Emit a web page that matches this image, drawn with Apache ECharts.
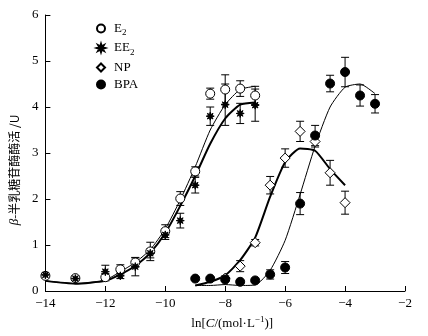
<!DOCTYPE html>
<html>
<head>
<meta charset="utf-8">
<script src="https://cdn.jsdelivr.net/npm/echarts@6/dist/echarts.min.js"></script>
<style>
  html, body { margin: 0; padding: 0; background: #fff; }
  #main { width: 428px; height: 336px; }
</style>
</head>
<body>
<div id="main"></div>
<script>
// measured points (ln concentration) and enzyme activity
var xE2 = [-14, -13, -12, -11.5, -11, -10.5, -10, -9.5, -9, -8.5, -8, -7.5, -7];
var e2Val = [0.33, 0.28, 0.30, 0.47, 0.62, 0.86, 1.30, 2.01, 2.60, 4.29, 4.38, 4.40, 4.25];
var e2Err = [0.04, 0.04, 0.08, 0.10, 0.10, 0.20, 0.14, 0.15, 0.10, 0.12, 0.32, 0.17, 0.20];
var ee2Val = [0.35, 0.27, 0.42, 0.33, 0.53, 0.82, 1.22, 1.53, 2.30, 3.80, 4.05, 3.86, 4.04];
var ee2Err = [0.04, 0.04, 0.14, 0.06, 0.20, 0.10, 0.10, 0.16, 0.17, 0.20, 0.45, 0.22, 0.35];

var xNP = [-8, -7.5, -7, -6.5, -6, -5.5, -5, -4.5, -4];
var npVal = [0.28, 0.54, 1.05, 2.30, 2.89, 3.47, 3.25, 2.57, 1.92];
var npErr = [0.05, 0.12, 0.07, 0.19, 0.20, 0.22, 0.12, 0.27, 0.25];

var xBPA = [-9, -8.5, -8, -7.5, -7, -6.5, -6, -5.5, -5, -4.5, -4, -3.5, -3];
var bpaVal = [0.27, 0.27, 0.25, 0.20, 0.23, 0.36, 0.51, 1.90, 3.38, 4.51, 4.76, 4.25, 4.07];
var bpaErr = [0.04, 0.04, 0.04, 0.03, 0.04, 0.10, 0.13, 0.24, 0.22, 0.18, 0.32, 0.23, 0.20];

// fitted curves
var fitEX = [-14, -13, -12, -11.5, -11, -10.5, -10, -9.5, -9, -8.5, -8, -7.5, -7];
var e2Fit = [0.22, 0.16, 0.24, 0.42, 0.62, 0.90, 1.35, 1.98, 2.70, 3.50, 4.05, 4.38, 4.45];
var ee2Fit = [0.22, 0.16, 0.22, 0.36, 0.55, 0.83, 1.26, 1.85, 2.50, 3.20, 3.75, 4.05, 4.10];
var fitNPX = [-9, -8.5, -8, -7.5, -7, -6.5, -6, -5.5, -5, -4.5, -4];
var npFit = [0.12, 0.20, 0.34, 0.67, 1.16, 2.05, 2.80, 3.10, 3.05, 2.65, 2.30];
var fitBX = [-9, -8.5, -8, -7.5, -7, -6.5, -6, -5.5, -5, -4.5, -4, -3.5, -3];
var bpaFit = [0.12, 0.12, 0.14, 0.12, 0.13, 0.45, 1.10, 2.10, 3.15, 4.00, 4.43, 4.50, 4.29];

var seriesNames = ['E2', 'EE2', 'NP', 'BPA'];
var legendLabels = ['{a|E}{s|2}', '{a|EE}{s|2}', '{a|NP}', '{a|BPA}'];

var serif = 'Liberation Serif, Times New Roman, serif';

function zip(xs, ys) {
    var out = [];
    for (var i = 0; i < xs.length; i++) out.push([xs[i], ys[i]]);
    return out;
}
function zipErr(xs, ys, es) {
    var out = [];
    for (var i = 0; i < xs.length; i++) out.push([xs[i], ys[i] - es[i], ys[i] + es[i]]);
    return out;
}

// 8-pointed asterisk-like star
function starPath() {
    var s = 'path://';
    for (var i = 0; i < 16; i++) {
        var a = i * Math.PI / 8 - Math.PI / 2;
        var r = i % 2 ? 4.5 : 10;
        s += (i ? 'L' : 'M') + (10 + r * Math.cos(a)).toFixed(2) + ',' + (10 + r * Math.sin(a)).toFixed(2);
    }
    return s + 'Z';
}
var STAR = starPath();

function errorBars(name, data) {
    return {
        name: name + ' err',
        type: 'custom',
        z: 3,
        data: data,
        encode: { x: 0, y: [1, 2] },
        renderItem: function (params, api) {
            var lo = api.coord([api.value(0), api.value(1)]);
            var hi = api.coord([api.value(0), api.value(2)]);
            var w = 4;
            var st = { stroke: '#000', lineWidth: 1 };
            return {
                type: 'group',
                children: [
                    { type: 'line', shape: { x1: lo[0], y1: lo[1], x2: hi[0], y2: hi[1] }, style: st },
                    { type: 'line', shape: { x1: lo[0] - w, y1: lo[1], x2: lo[0] + w, y2: lo[1] }, style: st },
                    { type: 'line', shape: { x1: hi[0] - w, y1: hi[1], x2: hi[0] + w, y2: hi[1] }, style: st }
                ]
            };
        }
    };
}

function fitLine(name, xs, ys, width) {
    return {
        name: name + ' fit',
        type: 'line',
        z: 2,
        data: zip(xs, ys),
        showSymbol: false,
        smooth: 0.2,
        silent: true,
        lineStyle: { color: '#000', width: width }
    };
}

function points(name, xs, ys, symbol, fill, size) {
    return {
        name: name,
        type: 'scatter',
        z: 5,
        data: zip(xs, ys),
        symbol: symbol,
        symbolSize: size,
        itemStyle: { color: fill, borderColor: '#000', borderWidth: 1, opacity: 1 }
    };
}

var myChart = echarts.init(document.getElementById('main'), null, { renderer: 'canvas' });

myChart.setOption({
    animation: false,
    backgroundColor: '#fff',
    grid: { left: 43, right: 23, top: 15, bottom: 45 },
    legend: {
        orient: 'vertical',
        left: 91,
        top: 17,
        itemWidth: 8,
        itemHeight: 8,
        itemGap: 4,
        selectedMode: false,
        data: seriesNames.map(function (n) { return { name: n }; }),
        formatter: function (name) {
            return legendLabels[seriesNames.indexOf(name)];
        },
        textStyle: {
            color: '#000',
            padding: [0, 0, 0, 4],
            rich: {
                a: { fontFamily: serif, fontSize: 13, color: '#000', lineHeight: 18 },
                s: { fontFamily: serif, fontSize: 9, color: '#000', lineHeight: 9, verticalAlign: 'bottom' }
            }
        }
    },
    xAxis: {
        type: 'value',
        min: -14,
        max: -2,
        interval: 2,
        name: '{t|ln[}{i|C}{t|/(mol·L}{sup|−1}{t|)]}',
        nameLocation: 'middle',
        nameGap: 22,
        nameTextStyle: {
            padding: [0, 0, 0, 14],
            rich: {
                t: { fontFamily: serif, fontSize: 13, color: '#000', lineHeight: 18 },
                i: { fontFamily: serif, fontSize: 13, color: '#000', lineHeight: 18, fontStyle: 'italic' },
                sup: { fontFamily: serif, fontSize: 9, color: '#000', lineHeight: 9, verticalAlign: 'top' }
            }
        },
        axisLine: { show: true, onZero: false, lineStyle: { color: '#000', width: 1 } },
        axisTick: { show: true, inside: true, length: 5, lineStyle: { color: '#000' } },
        axisLabel: {
            color: '#000', fontFamily: serif, fontSize: 13, margin: 6,
            formatter: function (v) { return String(v).replace('-', '−'); }
        },
        splitLine: { show: false }
    },
    yAxis: {
        type: 'value',
        min: 0,
        max: 6,
        interval: 1,
        name: '{g|β}{t|-半乳糖苷酶酶活 /U}',
        nameLocation: 'middle',
        nameGap: 22,
        nameTextStyle: {
            padding: [0, 34, 0, 0],
            rich: {
                g: { fontFamily: serif, fontSize: 13, color: '#000', fontStyle: 'italic' },
                t: { fontFamily: 'Noto Sans CJK SC', fontSize: 12, color: '#000' }
            }
        },
        axisLine: { show: true, lineStyle: { color: '#000', width: 1 } },
        axisTick: { show: true, inside: true, length: 5, lineStyle: { color: '#000' } },
        axisLabel: { color: '#000', fontFamily: serif, fontSize: 13, margin: 7 },
        splitLine: { show: false }
    },
    series: [
        fitLine('E2', fitEX, e2Fit, 1),
        fitLine('EE2', fitEX, ee2Fit, 2),
        fitLine('NP', fitNPX, npFit, 2),
        fitLine('BPA', fitBX, bpaFit, 1),
        errorBars('E2', zipErr(xE2, e2Val, e2Err)),
        errorBars('EE2', zipErr(xE2, ee2Val, ee2Err)),
        errorBars('NP', zipErr(xNP, npVal, npErr)),
        errorBars('BPA', zipErr(xBPA, bpaVal, bpaErr)),
        points('NP', xNP, npVal, 'diamond', '#fff', 10),
        points('BPA', xBPA, bpaVal, 'circle', '#000', 9),
        points('E2', xE2, e2Val, 'circle', '#fff', 9),
        points('EE2', xE2, ee2Val, STAR, '#000', 8)
    ]
});
</script>
</body>
</html>
